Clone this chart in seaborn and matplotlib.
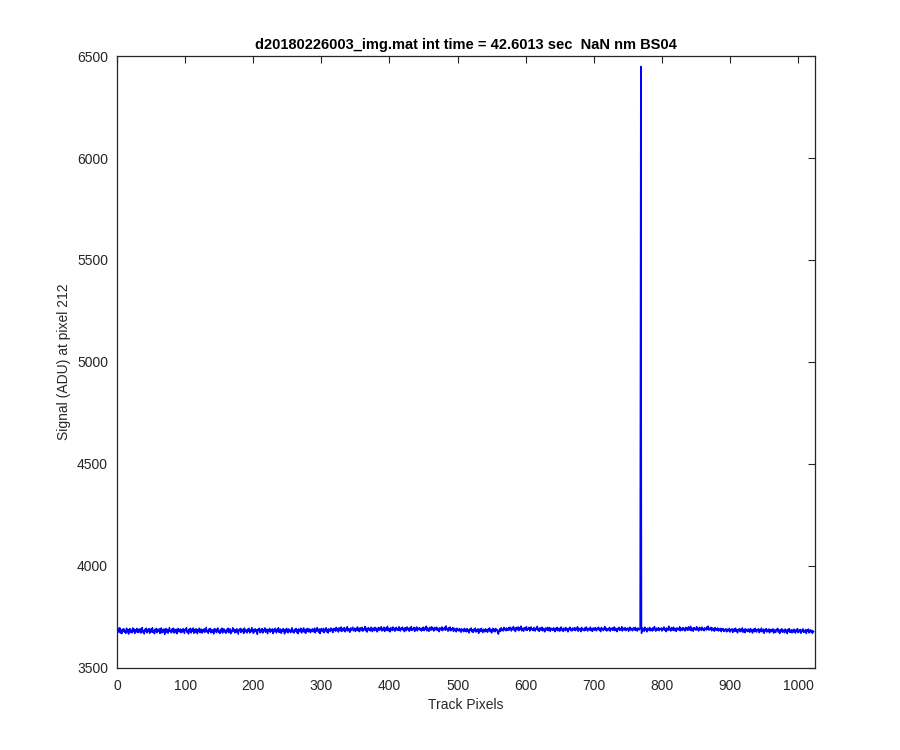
import matplotlib
matplotlib.use("Agg")
import matplotlib.pyplot as plt
import numpy as np
import pandas as pd
import seaborn as sns

TITLE = "d20180226003_img.mat int time = 42.6013 sec  NaN nm BS04"
X_LABEL = "Track Pixels"
Y_LABEL = "Signal (ADU) at pixel 212"
X_TICKS = [0, 100, 200, 300, 400, 500, 600, 700, 800, 900, 1000]
Y_TICKS = [3500, 4000, 4500, 5000, 5500, 6000, 6500]

# signal along the track, one value per pixel (0..1023)
signal = [
    3686, 3671, 3692, 3676, 3695, 3669, 3683, 3666, 3688, 3678, 3690, 3673, 3681, 3668, 3693, 3675,
    3687, 3664, 3684, 3691, 3672, 3682, 3670, 3694, 3677, 3689, 3667, 3685, 3674, 3692, 3679, 3671,
    3688, 3675, 3690, 3669, 3684, 3696, 3673, 3681, 3665, 3687, 3679, 3693, 3670, 3686, 3677, 3691,
    3668, 3683, 3689, 3674, 3695, 3672, 3680, 3666, 3688, 3676, 3692, 3671, 3685, 3678, 3690, 3667,
    3682, 3694, 3670, 3686, 3675, 3689, 3663, 3684, 3691, 3673, 3687, 3668, 3682, 3696, 3676, 3681,
    3670, 3690, 3677, 3693, 3669, 3685, 3674, 3688, 3666, 3683, 3692, 3675, 3680, 3689, 3671, 3686,
    3674, 3691, 3678, 3667, 3688, 3683, 3695, 3672, 3680, 3665, 3689, 3676, 3692, 3670, 3684, 3679,
    3694, 3668, 3686, 3673, 3690, 3681, 3666, 3687, 3677, 3693, 3671, 3682, 3688, 3669, 3685, 3676,
    3690, 3672, 3684, 3697, 3675, 3681, 3668, 3689, 3679, 3692, 3670, 3686, 3674, 3683, 3665, 3691,
    3678, 3688, 3671, 3685, 3694, 3673, 3680, 3667, 3687, 3676, 3693, 3669, 3684, 3690, 3674, 3682,
    3668, 3687, 3676, 3693, 3671, 3684, 3690, 3666, 3682, 3675, 3695, 3679, 3688, 3670, 3685, 3673,
    3691, 3677, 3664, 3686, 3681, 3692, 3672, 3689, 3678, 3683, 3667, 3694, 3675, 3686, 3680, 3670,
    3689, 3677, 3692, 3670, 3683, 3676, 3696, 3681, 3668, 3687, 3674, 3690, 3679, 3685, 3663, 3688,
    3682, 3693, 3671, 3684, 3675, 3691, 3669, 3686, 3680, 3694, 3673, 3682, 3688, 3666, 3684, 3678,
    3692, 3673, 3685, 3679, 3690, 3667, 3686, 3675, 3693, 3681, 3670, 3688, 3677, 3695, 3672, 3683,
    3689, 3668, 3684, 3676, 3691, 3680, 3665, 3687, 3674, 3692, 3682, 3670, 3689, 3677, 3684, 3671,
    3686, 3695, 3674, 3682, 3669, 3688, 3679, 3691, 3672, 3685, 3666, 3690, 3683, 3676, 3693, 3670,
    3687, 3680, 3694, 3673, 3684, 3668, 3689, 3677, 3692, 3675, 3683, 3689, 3671, 3686, 3679, 3690,
    3675, 3684, 3693, 3670, 3688, 3678, 3696, 3682, 3673, 3689, 3667, 3686, 3691, 3676, 3684, 3692,
    3671, 3688, 3680, 3695, 3674, 3687, 3669, 3690, 3683, 3677, 3694, 3681, 3688, 3672, 3691, 3684,
    3692, 3678, 3697, 3683, 3690, 3674, 3695, 3686, 3680, 3699, 3677, 3689, 3693, 3681, 3696, 3675,
    3688, 3684, 3700, 3679, 3691, 3686, 3673, 3694, 3682, 3690, 3698, 3680, 3687, 3693, 3677, 3691,
    3684, 3699, 3680, 3692, 3676, 3695, 3687, 3682, 3697, 3678, 3690, 3685, 3701, 3681, 3693, 3674,
    3688, 3696, 3683, 3691, 3679, 3698, 3686, 3676, 3694, 3689, 3681, 3697, 3684, 3692, 3675, 3690,
    3697, 3682, 3693, 3686, 3700, 3679, 3691, 3684, 3698, 3677, 3689, 3695, 3683, 3702, 3680, 3692,
    3687, 3675, 3696, 3688, 3681, 3699, 3685, 3693, 3678, 3690, 3697, 3684, 3691, 3682, 3700, 3686,
    3679, 3694, 3688, 3698, 3683, 3691, 3676, 3696, 3686, 3681, 3699, 3689, 3692, 3678, 3695, 3684,
    3701, 3682, 3690, 3687, 3697, 3677, 3693, 3685, 3699, 3680, 3691, 3688, 3696, 3683, 3690, 3679,
    3695, 3684, 3698, 3681, 3692, 3688, 3703, 3680, 3694, 3686, 3677, 3697, 3689, 3683, 3700, 3686,
    3692, 3679, 3696, 3685, 3690, 3698, 3682, 3693, 3687, 3676, 3695, 3689, 3684, 3699, 3681, 3692,
    3688, 3697, 3683, 3704, 3686, 3691, 3678, 3695, 3684, 3699, 3680, 3690, 3687, 3696, 3677, 3692,
    3685, 3689, 3675, 3693, 3682, 3688, 3679, 3691, 3684, 3673, 3690, 3681, 3686, 3676, 3692, 3680,
    3687, 3675, 3691, 3679, 3684, 3670, 3689, 3682, 3694, 3676, 3685, 3672, 3688, 3680, 3693, 3674,
    3686, 3678, 3690, 3668, 3684, 3689, 3677, 3692, 3681, 3671, 3687, 3683, 3675, 3690, 3679, 3686,
    3673, 3689, 3681, 3694, 3676, 3686, 3670, 3684, 3692, 3678, 3688, 3675, 3691, 3682, 3686, 3669,
    3664, 3683, 3690, 3677, 3695, 3684, 3688, 3679, 3697, 3685, 3691, 3680, 3694, 3687, 3682, 3696,
    3684, 3698, 3689, 3679, 3695, 3686, 3701, 3683, 3692, 3676, 3697, 3690, 3685, 3699, 3681, 3694,
    3688, 3703, 3680, 3693, 3686, 3678, 3696, 3689, 3684, 3700, 3682, 3691, 3687, 3697, 3679, 3692,
    3699, 3686, 3690, 3681, 3696, 3684, 3679, 3693, 3688, 3702, 3682, 3691, 3677, 3695, 3687, 3683,
    3698, 3680, 3692, 3686, 3675, 3694, 3689, 3684, 3697, 3681, 3690, 3696, 3678, 3693, 3685, 3689,
    3682, 3695, 3688, 3676, 3692, 3684, 3697, 3680, 3689, 3693, 3678, 3686, 3699, 3683, 3691, 3677,
    3694, 3687, 3681, 3696, 3684, 3690, 3675, 3692, 3686, 3698, 3682, 3689, 3679, 3694, 3687, 3683,
    3696, 3681, 3690, 3686, 3700, 3678, 3693, 3685, 3689, 3676, 3697, 3684, 3691, 3688, 3680, 3695,
    3683, 3699, 3686, 3679, 3692, 3689, 3684, 3698, 3681, 3690, 3677, 3694, 3687, 3683, 3696, 3685,
    3680, 3693, 3688, 3698, 3683, 3690, 3676, 3696, 3686, 3692, 3681, 3689, 3701, 3684, 3694, 3679,
    3687, 3691, 3683, 3697, 3678, 3690, 3686, 3695, 3682, 3688, 3699, 3681, 3693, 3687, 3676, 3692,
    3686, 3697, 3682, 3690, 3685, 3700, 3679, 3693, 3688, 3684, 3696, 3681, 3691, 3687, 3694, 3678,
    3689, 3698, 3683, 3692, 3686, 3680, 3695, 3689, 3684, 3697, 3682, 3691, 3679, 3694, 3688, 3685,
    3692, 6450, 3668, 3681, 3694, 3686, 3677, 3698, 3684, 3690, 3675, 3693, 3687, 3682, 3697, 3680,
    3691, 3688, 3679, 3695, 3684, 3701, 3686, 3678, 3693, 3689, 3683, 3696, 3681, 3690, 3687, 3694,
    3679, 3692, 3686, 3699, 3683, 3690, 3676, 3694, 3688, 3682, 3703, 3685, 3691, 3679, 3696, 3687,
    3683, 3698, 3681, 3692, 3689, 3677, 3695, 3686, 3690, 3684, 3700, 3680, 3693, 3688, 3682, 3696,
    3685, 3691, 3679, 3697, 3686, 3693, 3682, 3699, 3688, 3684, 3702, 3681, 3694, 3689, 3678, 3696,
    3687, 3692, 3683, 3700, 3685, 3690, 3679, 3697, 3688, 3693, 3682, 3698, 3686, 3691, 3680, 3695,
    3689, 3684, 3699, 3687, 3703, 3683, 3692, 3688, 3697, 3680, 3694, 3686, 3691, 3678, 3696, 3685,
    3690, 3682, 3694, 3679, 3688, 3684, 3692, 3676, 3689, 3683, 3691, 3677, 3686, 3681, 3690, 3675,
    3688, 3679, 3684, 3692, 3674, 3686, 3681, 3690, 3672, 3685, 3689, 3677, 3693, 3680, 3684, 3670,
    3687, 3682, 3691, 3675, 3686, 3679, 3694, 3673, 3684, 3688, 3671, 3690, 3679, 3685, 3676, 3689,
    3682, 3673, 3691, 3678, 3686, 3669, 3684, 3689, 3676, 3692, 3680, 3674, 3687, 3683, 3690, 3671,
    3685, 3678, 3693, 3675, 3682, 3688, 3668, 3686, 3680, 3691, 3674, 3684, 3677, 3689, 3670, 3683,
    3687, 3676, 3682, 3690, 3669, 3685, 3679, 3672, 3688, 3681, 3692, 3674, 3683, 3667, 3686, 3678,
    3690, 3673, 3684, 3680, 3671, 3689, 3676, 3683, 3666, 3687, 3679, 3691, 3672, 3681, 3685, 3670,
    3684, 3674, 3688, 3677, 3669, 3685, 3680, 3691, 3671, 3682, 3676, 3687, 3668, 3683, 3679, 3690,
    3672, 3681, 3675, 3686, 3667, 3684, 3678, 3689, 3670, 3680, 3685, 3673, 3682, 3668, 3679, 3676,
]

data = pd.DataFrame({"pixel": np.arange(len(signal)), "signal": signal})

sns.set_style("white")
plt.rcParams["font.family"] = ["Liberation Sans", "DejaVu Sans"]

fig = plt.figure(figsize=(9, 7.5), dpi=100)
ax = fig.add_axes([0.13, 0.11, 0.775, 0.815])

sns.lineplot(data=data, x="pixel", y="signal", ax=ax, color="#0000ff", linewidth=1.1)

ax.set_xlim(0, 1024)
ax.set_ylim(3500, 6500)
ax.set_xticks(X_TICKS)
ax.set_yticks(Y_TICKS)
ax.tick_params(direction="in", top=True, right=True, length=5, width=0.8,
               labelsize=10, colors="#262626")
ax.tick_params(axis="x", pad=8)
ax.tick_params(axis="y", pad=6.5)
for spine in ax.spines.values():
    spine.set_visible(True)
    spine.set_color("#262626")
    spine.set_linewidth(0.9)

ax.set_xlabel(X_LABEL, fontsize=10, color="#262626")
ax.set_ylabel(Y_LABEL, fontsize=10, color="#262626")
ax.set_title(TITLE, fontsize=10.5, fontweight="bold", color="black", pad=5)

fig.savefig("out.png", dpi=100)
plt.close()
